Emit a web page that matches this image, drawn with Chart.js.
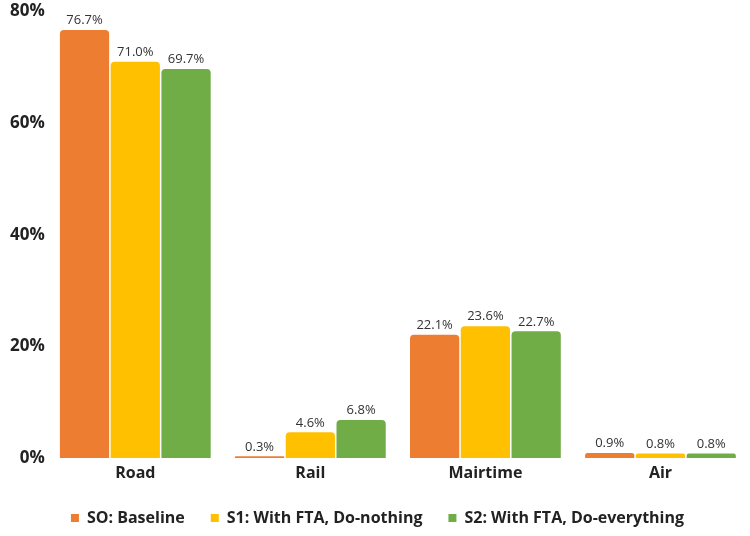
<!DOCTYPE html>
<html>
<head>
<meta charset="utf-8">
<script src="https://cdn.jsdelivr.net/npm/chart.js@4"></script>
<style>
html,body{margin:0;padding:0;background:#fff;}
#wrap{width:750px;height:536px;position:relative;}
</style>
</head>
<body>
<div id="wrap"><canvas id="c" width="750" height="536"></canvas></div>
<script>
const categories = ["Road", "Rail", "Mairtime", "Air"];
const seriesNames = ["SO: Baseline", "S1: With FTA, Do-nothing", "S2: With FTA, Do-everything"];
const baseline = [76.7, 0.3, 22.1, 0.9];
const doNothing = [71.0, 4.6, 23.6, 0.8];
const doEverything = [69.7, 6.8, 22.7, 0.8];
const yTicks = [0, 20, 40, 60, 80];
const colors = ["#ED7D31", "#FFC000", "#70AD47"];

const labelPlugin = {
  id: 'valueLabels',
  afterDatasetsDraw(chart) {
    const ctx = chart.ctx;
    ctx.save();
    ctx.font = '400 13px "Open Sans", sans-serif';
    ctx.fillStyle = '#333333';
    ctx.textAlign = 'center';
    ctx.textBaseline = 'bottom';
    chart.data.datasets.forEach((ds, i) => {
      const meta = chart.getDatasetMeta(i);
      meta.data.forEach((bar, j) => {
        ctx.fillText(ds.data[j].toFixed(1) + '%', bar.x, bar.y - 3);
      });
    });
    ctx.restore();
  }
};

const series = [baseline, doNothing, doEverything];
new Chart(document.getElementById('c'), {
  type: 'bar',
  data: {
    labels: categories,
    datasets: series.map((d, i) => ({
      label: seriesNames[i],
      data: d,
      backgroundColor: colors[i],
      borderRadius: {topLeft: 4, topRight: 4, bottomLeft: 0, bottomRight: 0},
      borderSkipped: false,
      barPercentage: 0.97,
      categoryPercentage: 0.87
    }))
  },
  options: {
    responsive: false,
    animation: false,
    devicePixelRatio: 1,
    layout: {padding: {top: 11, right: 2, left: 7, bottom: 0}},
    plugins: {
      legend: {
        position: 'bottom',
        labels: {
          boxWidth: 8, boxHeight: 8, padding: 26,
          color: '#222',
          font: {family: '"Open Sans", sans-serif', size: 16, weight: '700', lineHeight: 1}
        }
      },
      tooltip: {enabled: false}
    },
    scales: {
      x: {
        grid: {display: false, drawTicks: false},
        border: {display: false},
        afterFit(s) { s.height = 26; },
        ticks: {color: '#222', padding: 6, font: {family: '"Open Sans", sans-serif', size: 16, weight: '700', lineHeight: 1.2}}
      },
      y: {
        min: 0, max: 80,
        afterBuildTicks(axis) { axis.ticks = yTicks.map(v => ({value: v})); },
        grid: {display: false, drawTicks: false},
        border: {display: false},
        ticks: {color: '#222', padding: 3, font: {family: '"Open Sans", sans-serif', size: 17, weight: '700', lineHeight: 1},
          callback: v => v + '%'}
      }
    }
  },
  plugins: [labelPlugin]
});
</script>
</body>
</html>
